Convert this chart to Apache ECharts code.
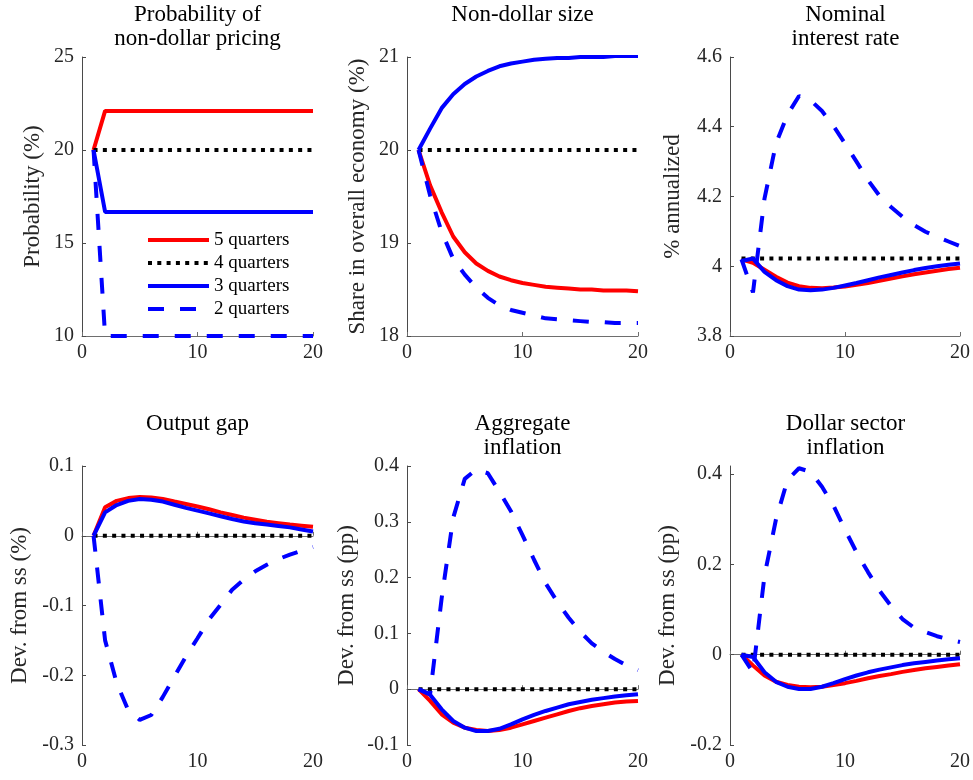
<!DOCTYPE html>
<html>
<head>
<meta charset="utf-8">
<script src="https://cdn.jsdelivr.net/npm/echarts@6/dist/echarts.min.js"></script>
<style>
html,body{margin:0;padding:0;background:#fff;}
#chart{width:973px;height:780px;}
</style>
</head>
<body>
<div id="chart"></div>
<script>
// ---------------- DATA ----------------
const periods = [1,2,3,4,5,6,7,8,9,10,11,12,13,14,15,16,17,18,19,20];
const seriesNames = ['5 quarters','4 quarters','3 quarters','2 quarters'];

// Panel 1: Probability of non-dollar pricing (%)
const prob5 = [20,22.1,22.1,22.1,22.1,22.1,22.1,22.1,22.1,22.1,22.1,22.1,22.1,22.1,22.1,22.1,22.1,22.1,22.1,22.1];
const prob4 = [20,20,20,20,20,20,20,20,20,20,20,20,20,20,20,20,20,20,20,20];
const prob3 = [20,16.67,16.67,16.67,16.67,16.67,16.67,16.67,16.67,16.67,16.67,16.67,16.67,16.67,16.67,16.67,16.67,16.67,16.67,16.67];
const prob2 = [20,10,10,10,10,10,10,10,10,10,10,10,10,10,10,10,10,10,10,10];

// Panel 2: Non-dollar size (share in overall economy, %)
const size5 = [20,19.62,19.33,19.07,18.90,18.78,18.70,18.64,18.60,18.57,18.55,18.53,18.52,18.51,18.50,18.50,18.49,18.49,18.49,18.48];
const size4 = [20,20,20,20,20,20,20,20,20,20,20,20,20,20,20,20,20,20,20,20];
const size3 = [20,20.23,20.45,20.60,20.71,20.79,20.85,20.90,20.93,20.95,20.97,20.98,20.99,20.99,21.0,21.0,21.0,21.01,21.01,21.01];
const size2 = [20,19.51,19.12,18.83,18.66,18.52,18.41,18.33,18.28,18.25,18.22,18.19,18.18,18.17,18.16,18.15,18.15,18.14,18.14,18.14];

// Panel 3: Nominal interest rate (% annualized)
const rate5 = [4.02,4.01,3.99,3.97,3.953,3.943,3.938,3.937,3.939,3.942,3.947,3.952,3.958,3.965,3.971,3.977,3.982,3.987,3.992,3.996];
const rate4 = [4.022,4.022,4.022,4.022,4.022,4.022,4.022,4.022,4.022,4.022,4.022,4.022,4.022,4.022,4.022,4.022,4.022,4.022,4.022,4.022];
const rate3 = [4.015,4.022,3.984,3.96,3.943,3.933,3.931,3.933,3.938,3.945,3.952,3.96,3.968,3.975,3.982,3.989,3.995,4.0,4.004,4.008];
const rate2 = [4.02,3.925,4.194,4.352,4.435,4.488,4.476,4.445,4.402,4.352,4.30,4.247,4.202,4.17,4.142,4.118,4.099,4.084,4.071,4.058];

// Panel 4: Output gap (dev. from ss, %)
const gap5 = [0,0.041,0.050,0.054,0.0555,0.055,0.0527,0.049,0.0455,0.042,0.038,0.0335,0.0298,0.026,0.023,0.020,0.018,0.016,0.0145,0.013];
const gap4 = [0,0,0,0,0,0,0,0,0,0,0,0,0,0,0,0,0,0,0,0];
const gap3 = [0,0.0335,0.044,0.050,0.0526,0.0517,0.049,0.0445,0.040,0.036,0.032,0.028,0.024,0.0205,0.018,0.016,0.014,0.012,0.009,0.006];
const gap2 = [0,-0.150,-0.211,-0.25,-0.264,-0.257,-0.231,-0.202,-0.173,-0.147,-0.12,-0.099,-0.0775,-0.063,-0.051,-0.0416,-0.0335,-0.027,-0.0215,-0.016];

// Panel 5: Aggregate inflation (dev. from ss, pp)
const agg5 = [0,-0.021,-0.045,-0.060,-0.069,-0.073,-0.075,-0.073,-0.069,-0.063,-0.057,-0.051,-0.045,-0.039,-0.034,-0.030,-0.027,-0.024,-0.022,-0.021];
const agg4 = [0,0,0,0,0,0,0,0,0,0,0,0,0,0,0,0,0,0,0,0];
const agg3 = [0,-0.010,-0.036,-0.057,-0.069,-0.075,-0.075,-0.071,-0.063,-0.054,-0.046,-0.039,-0.033,-0.027,-0.023,-0.019,-0.016,-0.013,-0.011,-0.009];
const agg2 = [0,-0.009,0.163,0.307,0.377,0.394,0.387,0.354,0.319,0.276,0.232,0.19,0.157,0.128,0.103,0.082,0.067,0.054,0.043,0.034];

// Panel 6: Dollar sector inflation (dev. from ss, pp)
const dol5 = [0,-0.024,-0.046,-0.060,-0.067,-0.071,-0.072,-0.071,-0.067,-0.063,-0.058,-0.052,-0.047,-0.043,-0.038,-0.034,-0.030,-0.027,-0.024,-0.021];
const dol4 = [0,0,0,0,0,0,0,0,0,0,0,0,0,0,0,0,0,0,0,0];
const dol3 = [0,-0.005,-0.039,-0.060,-0.071,-0.076,-0.076,-0.071,-0.063,-0.054,-0.046,-0.039,-0.033,-0.028,-0.023,-0.019,-0.016,-0.013,-0.010,-0.008];
const dol2 = [0,-0.039,0.175,0.30,0.387,0.413,0.405,0.372,0.33,0.277,0.227,0.183,0.142,0.108,0.079,0.06,0.05,0.041,0.034,0.028];

const titles = ['Probability of\nnon-dollar pricing','Non-dollar size','Nominal\ninterest rate',
                'Output gap','Aggregate\ninflation','Dollar sector\ninflation'];
const yNames = ['Probability (%)','Share in overall economy (%)','% annualized',
                'Dev. from ss (%)','Dev. from ss (pp)','Dev. from ss (pp)'];
const yMin = [10,18,3.8,-0.3,-0.1,-0.2];
const yMax = [25,21,4.6,0.1,0.4,0.418];
const yStep = [5,1,0.2,0.1,0.1,0.2];
const yTicks = [null,null,null,null,null,[-0.2,0,0.2,0.4]];
const panels = [
  [prob5,prob4,prob3,prob2],
  [size5,size4,size3,size2],
  [rate5,rate4,rate3,rate2],
  [gap5,gap4,gap3,gap2],
  [agg5,agg4,agg3,agg2],
  [dol5,dol4,dol3,dol2]
];

// ---------------- LAYOUT / STYLE ----------------
const FONT = '"Liberation Serif","Times New Roman",serif';
const gridLeft = [82,407,730,82,407,730];
const gridTop = [57,57,57,466,466,466];
const GW = 231, GH = 279;
const titleTop = [3,3,3,412,412,412];
const nameGaps = [38,38,46,51,49,51];
const lineStyles = [
  {color:'#ff0000', type:'solid'},
  {color:'#000000', type:[4,5.3]},
  {color:'#0000ff', type:'solid'},
  {color:'#0000ff', type:[16,16]}
];
const LW = 4;

const chart = echarts.init(document.getElementById('chart'), null, {renderer:'canvas'});

const grid = [], xAxis = [], yAxis = [], series = [], title = [];
const fmt = v => String(Math.round(v*10)/10);
for (let i = 0; i < 6; i++) {
  grid.push({left:gridLeft[i], top:gridTop[i], width:GW, height:GH, containLabel:false});
  title.push({
    text: titles[i], left: gridLeft[i] + GW/2, top: titleTop[i], textAlign:'center',
    padding:0,
    textStyle:{fontFamily:FONT, fontSize:23, fontWeight:'normal', color:'#000', lineHeight:24}
  });
  xAxis.push({
    type:'value', gridIndex:i, min:0, max:20, interval:10,
    axisLine:{show:true, lineStyle:{color:'#6e6e6e', width:1}},
    axisTick:{show:true, inside:true, length:4, lineStyle:{color:'#6e6e6e'}},
    axisLabel:{fontFamily:FONT, fontSize:20, color:'#262626', margin:7},
    splitLine:{show:false}
  });
  const ya = {
    type:'value', gridIndex:i, min:yMin[i], max:yMax[i], interval:yStep[i],
    name: yNames[i], nameLocation:'middle', nameRotate:90, nameGap:nameGaps[i],
    nameTextStyle:{fontFamily:FONT, fontSize:23, color:'#262626'},
    axisLine:{show:true, onZero:false, lineStyle:{color:'#4a4a4a', width:1}},
    axisTick:{show:true, inside:true, length:4, lineStyle:{color:'#4a4a4a'}},
    axisLabel:{fontFamily:FONT, fontSize:20, color:'#262626', margin:8, formatter:fmt},
    splitLine:{show:false}
  };
  if (yTicks[i]) {
    ya.axisLabel.customValues = yTicks[i];
    ya.axisTick.customValues = yTicks[i];
  }
  yAxis.push(ya);
  for (let s = 0; s < 4; s++) {
    series.push({
      name: seriesNames[s], type:'line', xAxisIndex:i, yAxisIndex:i,
      data: periods.map((p,k) => [p, panels[i][s][k]]),
      symbol:'none', showSymbol:false, smooth:false, animation:false,
      lineStyle:{color:lineStyles[s].color, type:lineStyles[s].type, width:LW, cap:'butt'},
      itemStyle:{color:lineStyles[s].color},
      z: 2 + s
    });
  }
}

chart.setOption({
  backgroundColor:'#fff',
  animation:false,
  title: title,
  grid: grid,
  xAxis: xAxis,
  yAxis: yAxis,
  legend: {
    data: seriesNames, orient:'vertical', left:146, top:230, padding:0,
    itemWidth:61, itemHeight:12, itemGap:3,
    itemStyle:{opacity:0, borderWidth:0},
    lineStyle:{width:LW},
    textStyle:{fontFamily:FONT, fontSize:19, color:'#000', lineHeight:20},
    selectedMode:false
  },
  series: series
});
</script>
</body>
</html>
